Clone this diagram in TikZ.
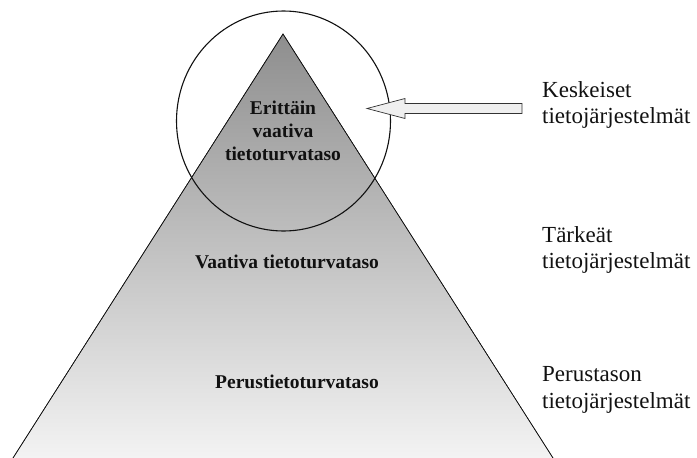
\documentclass[tikz,border=0pt]{standalone}
\usepackage{fontspec}
\setmainfont{Liberation Serif}
\usepackage{tikz}
\usetikzlibrary{positioning}
\definecolor{ink}{HTML}{111111}
\definecolor{apexgray}{HTML}{8E8E8E}
\definecolor{basegray}{HTML}{F3F3F3}
\definecolor{arrowfill}{HTML}{EFEFEF}
\definecolor{arrowline}{HTML}{333333}
\tikzset{
  levellabel/.style={font=\fontsize{19.5}{23}\selectfont\bfseries,
                     align=center,text=ink,inner sep=0pt},
  syslabel/.style={font=\fontsize{23}{26.5}\selectfont,
                   align=left,anchor=west,text=ink,inner sep=0pt},
  pyramid/.style={draw=ink,line width=0.6pt,top color=apexgray,bottom color=basegray},
  focusring/.style={draw=ink,line width=1.1pt},
  blockarr/.style={draw=arrowline,fill=arrowfill,line width=0.7pt,line join=miter}
}
\begin{document}
\begin{tikzpicture}[x=1pt,y=-1pt]
      \useasboundingbox (0,0) rectangle (697,458);
      % pyramid
      \coordinate (apex) at (283,34);
      \coordinate (baseL) at (13,458);
      \coordinate (baseR) at (553,458);
      \shade[pyramid] (baseL)--(apex)--(baseR);
      \draw[ink,line width=0.6pt] (baseL)--(apex)--(baseR);
      % levels
      \node[levellabel] (erittain) at (283,131) {Erittäin\\vaativa\\tietoturvataso};
      \node[levellabel] (vaativa) at (287,262) {Vaativa tietoturvataso};
      \node[levellabel] (perus) at (297,382) {Perustietoturvataso};
      % ring round the top
      \draw[focusring] (283.5,121) ellipse [x radius=107,y radius=110];
      % systems
      \node[syslabel] (keskeiset) at (542,105) {Keskeiset\\tietojärjestelmät};
      \node[syslabel] (tarkeat) at (542,250) {Tärkeät\\tietojärjestelmät};
      \node[syslabel] (perustason) at (542,390) {Perustason\\tietojärjestelmät};
      % hollow arrow
      \draw[blockarr] (522,103.5)--(405,103.5)--(405,98.5)--(367,108.5)
        --(405,118.5)--(405,113.5)--(522,113.5)--cycle;
    \end{tikzpicture}
\end{document}
